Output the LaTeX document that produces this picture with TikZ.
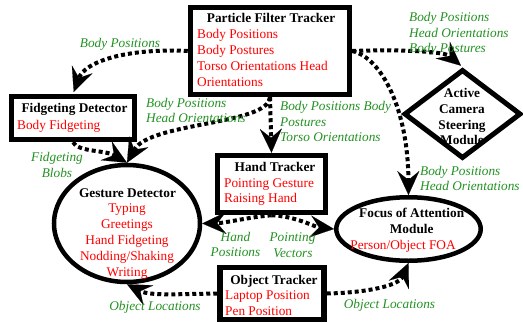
\documentclass[tikz,border=0pt]{standalone}
\usepackage{fontspec}
\setmainfont{Liberation Serif}
\usetikzlibrary{arrows.meta,shapes.geometric,calc}
\definecolor{lblgreen}{RGB}{34,145,34}
\definecolor{txtred}{RGB}{255,0,0}
\begin{document}
\begin{tikzpicture}[x=1pt,y=-1pt,
  box/.style={draw, line width=5.5pt, inner sep=0pt},
  oval/.style={draw, ellipse, line width=4.5pt, inner sep=0pt},
  flow/.style={line width=4pt, dash pattern=on 4pt off 3pt,
    -{Stealth[length=24pt,width=22pt,inset=9pt,line width=0.1pt]}},
  ttl/.style={font=\fontsize{13.3}{16}\selectfont\bfseries, anchor=base, inner sep=0pt},
  itm/.style={font=\fontsize{13.3}{16}\selectfont, text=txtred, inner sep=0pt},
  lbl/.style={font=\fontsize{13.3}{16}\selectfont\itshape, text=lblgreen, inner sep=0pt}]
\useasboundingbox (0,0) rectangle (523,322);

% shapes
\node[box, minimum width=159pt, minimum height=87pt] (pf) at (270,51) {};
\node[box, minimum width=123pt, minimum height=43pt] (fid) at (73,118) {};
\node[box, minimum width=108pt, minimum height=57pt] (ht) at (271.5,184) {};
\node[box, minimum width=104pt, minimum height=52pt] (ot) at (272,293.5) {};
\node[draw, diamond, line width=5pt, minimum width=117pt, minimum height=89pt, inner sep=0pt] (acs) at (462.5,114) {};
\node[oval, minimum width=146pt, minimum height=117pt] (gd) at (127,223.5) {};
\node[oval, minimum width=144.5pt, minimum height=63.5pt] (foa) at (408.5,229) {};

% connectors
\draw[flow, shorten >=2pt] (pf.west) .. controls (125,48) and (85,62) .. (fid.north);
\draw[flow] (pf.south) .. controls (268,125) and (150,122) .. (gd.north);
\draw[flow] (fid.south) .. controls (78,152) and (105,150) .. (gd.north);
\draw[flow] (pf.south) -- (ht.north);
\draw[flow, shorten >=2pt] (pf.east) .. controls (405,49) and (445,52) .. (acs.north);
\draw[flow] (pf.east) .. controls (382,58) and (408,110) .. (foa.north);
\draw[flow] (ht.south) .. controls (250,217) and (225,223) .. (gd.east);
\draw[flow] (ht.south) .. controls (295,216) and (315,227) .. (foa.west);
\draw[flow] (ot.west) .. controls (180,294) and (150,296) .. (gd.south);
\draw[flow] (ot.east) .. controls (360,293) and (398,287) .. (foa.south);

% texts in shapes
\node[ttl] (pft) at (271,22) {Particle Filter Tracker};
\foreach \t [count=\i] in {Body Positions, Body Postures, Torso Orientations Head, Orientations}
  \node[itm, anchor=base west] (pf\i) at (197,{22+16*\i}) {\t};
\node[ttl] (fidt) at (74.5,112) {Fidgeting Detector};
\node[itm, anchor=base west] (fid1) at (17,129) {Body Fidgeting};
\node[ttl] (htt) at (275,171) {Hand Tracker};
\node[itm, anchor=base west] (ht1) at (224,187) {Pointing Gesture};
\node[itm, anchor=base west] (ht2) at (224,202) {Raising Hand};
\node[ttl] (ott) at (274,284) {Object Tracker};
\node[itm, anchor=base west] (ot1) at (225,299) {Laptop Position};
\node[itm, anchor=base west] (ot2) at (225,315) {Pen Position};
\node[ttl] (acs1) at (462,97) {Active};
\node[ttl] (acs2) at (462,113) {Camera};
\node[ttl] (acs3) at (462,129) {Steering};
\node[ttl] (acs4) at (462,144) {Module};
\node[ttl] (gdt) at (127.5,197) {Gesture Detector};
\foreach \t [count=\i] in {Typing, Greetings, Hand Fidgeting, Nodding/Shaking, Writing}
  \node[itm, anchor=base] (gd\i) at (127,{197+15.8*\i}) {\t};
\node[ttl] (foat1) at (411.7,217) {Focus of Attention};
\node[ttl] (foat2) at (411.7,233) {Module};
\node[itm, anchor=base] (foa1) at (403,249) {Person/Object FOA};

% connector labels
\node[lbl, anchor=base] (l1) at (120,47) {Body Positions};
\node[lbl, anchor=base west] (l2a) at (409,21) {Body Positions};
\node[lbl, anchor=base west] (l2b) at (409,37) {Head Orientations};
\node[lbl, anchor=base west] (l2c) at (409,52) {Body Postures};
\node[lbl, anchor=base west] (l3a) at (146,107) {Body Positions};
\node[lbl, anchor=base west] (l3b) at (146,122) {Head Orientations};
\node[lbl, anchor=base west] (l4a) at (280,110) {Body Positions Body};
\node[lbl, anchor=base west] (l4b) at (280,126) {Postures};
\node[lbl, anchor=base west] (l4c) at (280,141) {Torso Orientations};
\node[lbl, anchor=base] (l5a) at (57,161) {Fidgeting};
\node[lbl, anchor=base] (l5b) at (57,177) {Blobs};
\node[lbl, anchor=base west] (l6a) at (420,175) {Body Positions};
\node[lbl, anchor=base west] (l6b) at (420,190) {Head Orientations};
\node[lbl, anchor=base] (l7a) at (235.5,241) {Hand};
\node[lbl, anchor=base] (l7b) at (235.5,256) {Positions};
\node[lbl, anchor=base] (l8a) at (292.5,241) {Pointing};
\node[lbl, anchor=base] (l8b) at (293,257) {Vectors};
\node[lbl, anchor=base] (l9) at (155,310) {Object Locations};
\node[lbl, anchor=base] (l10) at (389.5,308) {Object Locations};
\end{tikzpicture}
\end{document}
